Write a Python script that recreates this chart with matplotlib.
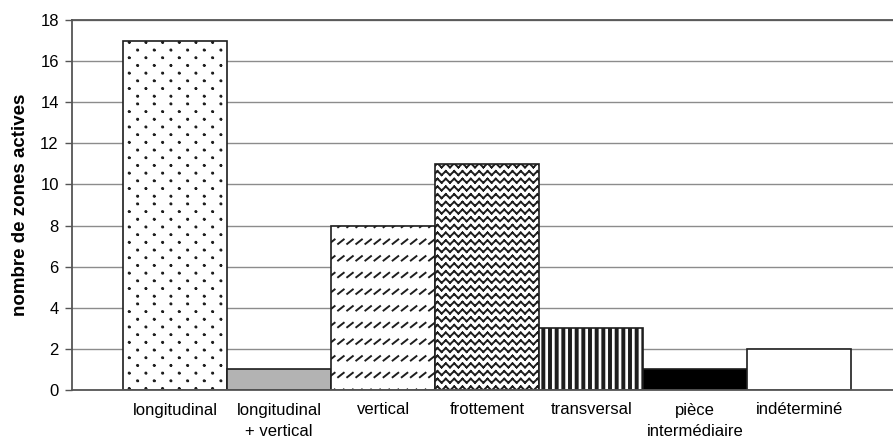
import numpy as np
import matplotlib
matplotlib.use("Agg")
import matplotlib.pyplot as plt
import matplotlib.hatch as mhatch
from matplotlib.path import Path
import warnings

warnings.filterwarnings("ignore")

categories = ["longitudinal", "longitudinal\n+ vertical", "vertical", "frottement",
              "transversal", "pièce\nintermédiaire", "indéterminé"]
values = [17, 1, 8, 11, 3, 1, 2]
y_ticks = [0, 2, 4, 6, 8, 10, 12, 14, 16, 18]


# --- custom hatch patterns (Excel-like fills) -------------------------------
class DotHatch(mhatch.HatchPatternBase):
    # staggered small dots, char 'p'
    def __init__(self, hatch, density):
        self.on = hatch.count('p') > 0
        self.cols, self.rows, self.seg = 6, 13, 6
        self.num_vertices = (self.cols * self.rows * self.seg) if self.on else 0

    def set_vertices_and_codes(self, vertices, codes):
        r = 0.005
        t = np.linspace(0, 2 * np.pi, self.seg, endpoint=False)
        k = 0
        for j in range(self.rows):
            y = (j + 0.5) / self.rows
            shift = 0.5 / self.cols if j % 2 else 0.0
            for i in range(self.cols):
                x = (i + 0.25) / self.cols + shift
                vertices[k:k + self.seg, 0] = x + r * np.cos(t)
                vertices[k:k + self.seg, 1] = y + r * np.sin(t)
                codes[k] = Path.MOVETO
                codes[k + 1:k + self.seg] = Path.LINETO
                k += self.seg


class ZigzagHatch(mhatch.HatchPatternBase):
    # horizontal zigzag rows, char 'z'
    def __init__(self, hatch, density):
        self.on = hatch.count('z') > 0
        self.rows, self.periods = 13, 12
        self.num_vertices = (self.rows * self.periods * 2 * 2) if self.on else 0

    def set_vertices_and_codes(self, vertices, codes):
        amp = 0.02
        k = 0
        for j in range(self.rows):
            y = (j + 0.5) / self.rows
            for i in range(self.periods):
                x0 = i / self.periods
                xm = (i + 0.5) / self.periods
                x1 = (i + 1) / self.periods
                for a, b in (((x0, y - amp), (xm, y + amp)), ((xm, y + amp), (x1, y - amp))):
                    vertices[k] = a
                    vertices[k + 1] = b
                    codes[k] = Path.MOVETO
                    codes[k + 1] = Path.LINETO
                    k += 2


class DashHatch(mhatch.HatchPatternBase):
    # rows of short diagonal dashes, char 'd'
    def __init__(self, hatch, density):
        self.on = hatch.count('d') > 0
        self.rows, self.cols = 6, 11
        self.num_vertices = (self.rows * self.cols * 2) if self.on else 0

    def set_vertices_and_codes(self, vertices, codes):
        k = 0
        for j in range(self.rows):
            y = (j + 0.5) / self.rows
            for i in range(self.cols):
                x = (i + 0.5) / self.cols
                vertices[k] = (x - 0.028, y - 0.022)
                vertices[k + 1] = (x + 0.028, y + 0.022)
                codes[k] = Path.MOVETO
                codes[k + 1] = Path.LINETO
                k += 2


class StripeHatch(mhatch.HatchPatternBase):
    # thick vertical stripes, char 'v'
    def __init__(self, hatch, density):
        self.on = hatch.count('v') > 0
        self.n = 15
        self.num_vertices = (self.n * 5) if self.on else 0

    def set_vertices_and_codes(self, vertices, codes):
        w = 0.01
        k = 0
        for i in range(self.n):
            x = (i + 0.5) / self.n
            vertices[k:k + 5] = [(x - w, 0), (x + w, 0), (x + w, 1), (x - w, 1), (x - w, 0)]
            codes[k] = Path.MOVETO
            codes[k + 1:k + 4] = Path.LINETO
            codes[k + 4] = Path.CLOSEPOLY
            k += 5


mhatch._hatch_types.extend([DotHatch, ZigzagHatch, DashHatch, StripeHatch])

plt.rcParams['font.family'] = ['Liberation Sans', 'DejaVu Sans']
plt.rcParams['hatch.linewidth'] = 1.4

fills = ["white", "#b3b3b3", "white", "white", "white", "black", "white"]
hatches = ["p", None, "d", "z", "v", None, None]

fig = plt.figure(figsize=(8.93, 4.46), dpi=100)
ax = fig.add_axes([72 / 893, 56 / 446, 1 - 72 / 893, 370 / 446])

x = np.arange(len(categories))
ax.set_axisbelow(True)
ax.grid(axis='y', color='#8c8c8c', linewidth=1.0)
bars = ax.bar(x, values, width=1.0, color=fills, edgecolor='#1e1e1e', linewidth=1.2)
for b, h in zip(bars, hatches):
    if h:
        b.set_hatch(h)

ax.set_xlim(-0.99, 6.9)
ax.set_ylim(0, 18)
ax.set_yticks(y_ticks)
ax.tick_params(axis='y', labelsize=12, length=5, color='#555555', width=1.0, pad=4.5)
ax.set_xticks(x)
ax.set_xticklabels(categories, fontsize=12)
ax.tick_params(axis='x', length=0, pad=9)
for lab in ax.get_xticklabels():
    lab.set_verticalalignment('top')
    lab.set_linespacing(1.5)

for side in ('left', 'top', 'bottom'):
    ax.spines[side].set_color('#555555')
    ax.spines[side].set_linewidth(1.3)
ax.spines['right'].set_visible(False)

ax.set_ylabel("nombre de zones actives", fontsize=13.5, fontweight='bold', labelpad=8)

fig.savefig("out.png", dpi=100)
